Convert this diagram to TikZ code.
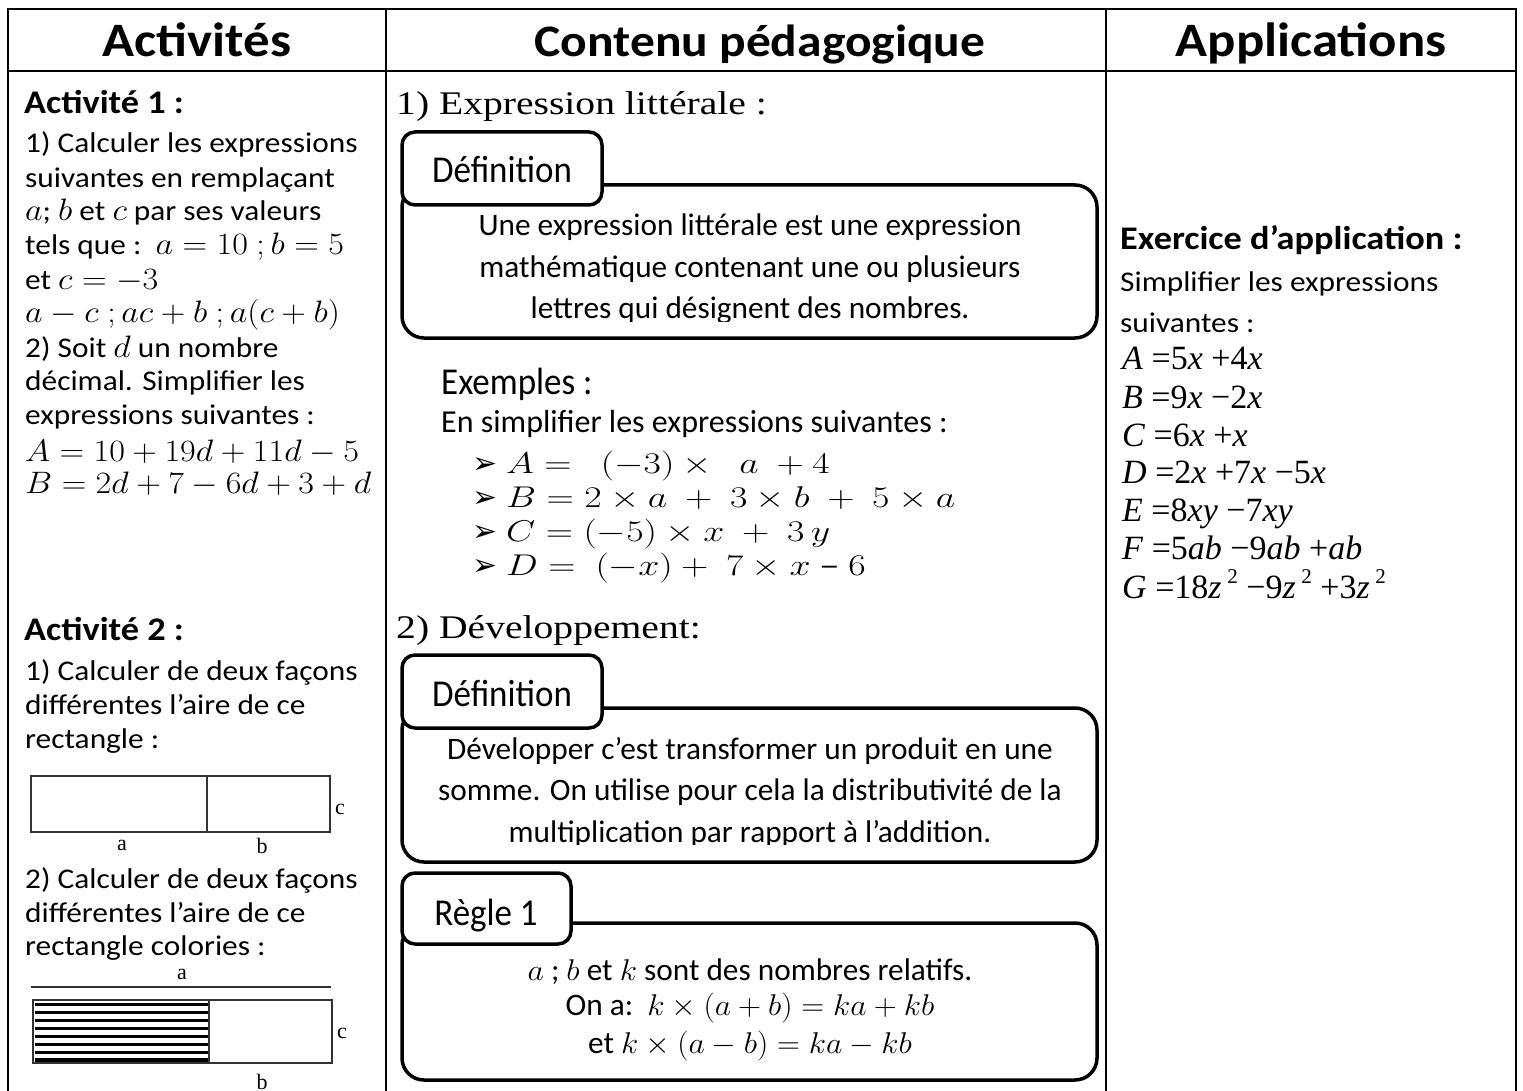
\RequirePackage{fix-cm}
\documentclass[tikz,border=0pt]{standalone}
\usepackage[no-math]{fontspec}
\setmainfont{Carlito}[FakeStretch=1.1]
\newfontfamily\plainf{Carlito}
\newfontfamily\lblf{Carlito}[FakeStretch=0.92]
\newfontfamily\serf{Liberation Serif}[FakeStretch=1.2]
\newfontfamily\tms{Liberation Serif}
\newfontfamily\djv{DejaVu Sans}
\newcommand\mysup[1]{\raisebox{0.42em}{\fontsize{21}{21}\selectfont #1}}
\newcommand\ix[1]{\textit{#1}}
\newcommand\mA[1]{{\fontsize{31}{36}\selectfont\scalebox{1.1}[1]{$#1$}}}
\newcommand\mB[1]{{\fontsize{30}{33}\selectfont\scalebox{1.26}[1]{$#1$}}}
\newcommand\mC[1]{{\fontsize{30}{36}\selectfont\scalebox{1.06}[1]{$#1$}}}
\tikzset{
  tl/.style={line width=2pt},
  bigbox/.style={draw, line width=3.5pt, rounded corners=22pt},
  tabbox/.style={draw, fill=white, line width=3.5pt, rounded corners=13pt},
  txt/.style={anchor=base west, inner sep=0pt, font=\fontsize{28.5}{33}\selectfont},
  ctxt/.style={anchor=base, inner sep=0pt, font=\fontsize{31.3}{36}\plainf},
  hd/.style={anchor=base, inner sep=0pt, font=\fontsize{48}{52}\selectfont\bfseries},
  subh/.style={anchor=base west, inner sep=0pt, font=\fontsize{33}{36}\selectfont\bfseries},
  ttl/.style={anchor=base west, inner sep=0pt, font=\fontsize{33}{38}\serf},
  lbl/.style={anchor=base, inner sep=0pt, font=\fontsize{38}{42}\lblf},
  lblw/.style={anchor=base west, inner sep=0pt, font=\fontsize{38}{42}\lblf},
  fig/.style={line width=1.2pt, draw=black!80},
  figl/.style={anchor=base, inner sep=0pt, font=\fontsize{22}{24}\tms},
  eqs/.style={anchor=base west, inner sep=0pt, font=\fontsize{34}{38}\tms},
  bul/.style={anchor=base west, inner sep=0pt, font=\fontsize{30}{34}\djv},
}
\begin{document}
\begin{tikzpicture}[x=1pt,y=-1pt]
\useasboundingbox (0,0) rectangle (1523,1091);
% table
\draw[tl] (8,1100) -- (8,9) -- (1516,9) -- (1516,1100);
\draw[tl] (8,71) -- (1516,71);
\draw[tl] (386,9) -- (386,1100);
\draw[tl] (1106,9) -- (1106,1100);
\node[hd] (h1) at (197,57) {Activités};
\node[hd, font=\fontsize{45}{50}\selectfont\bfseries] (h2) at (760,57) {Contenu pédagogique};
\node[hd] (h3) at (1311,57) {Applications};

% column 1
\node[subh] (a1) at (24,114) {Activité 1 :};
\node[txt] (l1) at (25,153) {1) Calculer les expressions};
\node[txt] (l2) at (25,188) {suivantes en remplaçant};
\node[txt] (l3) at (25,221) {\mA{a}; \mA{b} et \mA{c} par ses valeurs};
\node[txt] (l4) at (25,255) {tels que :\ \ \mA{a=10\ ;b=5}};
\node[txt] (l5) at (25,290) {et \mA{c=-3}};
\node[txt] (l6) at (25,323) {\mA{a-c\ ;ac+b\ ;a(c+b)}};
\node[txt] (l7) at (25,357) {2) Soit \mA{d} un nombre};
\node[txt] (l8) at (25,390) {décimal. Simplifier les};
\node[txt] (l9) at (25,424) {expressions suivantes :};
\node[txt] (l10) at (25,461) {\mA{A=10+19d+11d-5}};
\node[txt] (l11) at (25,493) {\mA{B=2d+7-6d+3+d}};

\node[subh] (a2) at (24,640) {Activité 2 :};
\node[txt] (m1) at (25,680) {1) Calculer de deux façons};
\node[txt] (m2) at (25,714) {différentes l’aire de ce};
\node[txt] (m3) at (25,748) {rectangle :};
\draw[fig] (31,776) rectangle (330,832);
\draw[fig] (207,776) -- (207,832);
\node[figl, anchor=base west] (rc1) at (335,814) {c};
\node[figl] (ra1) at (122,850) {a};
\node[figl] (rb1) at (262,853) {b};
\node[txt] (n1) at (25,888) {2) Calculer de deux façons};
\node[txt] (n2) at (25,922) {différentes l’aire de ce};
\node[txt] (n3) at (25,955) {rectangle colories :};
\node[figl] (ra2) at (182,979) {a};
\draw[fig] (31,987) -- (331,987);
\draw[fig] (33,1000) rectangle (332,1063);
\foreach \yy in {1004.5,1012.5,1020.5,1028.5,1036.5,1044.5,1052.5,1060}
  \draw[line width=3.4pt] (35,\yy) -- (209,\yy);
\draw[fig, line width=1.6pt] (209,1000) -- (209,1063);
\node[figl, anchor=base west] (rc2) at (337,1038) {c};
\node[figl] (rb2) at (262,1089) {b};

% column 2
\node[ttl] (t1) at (396,115) {1) Expression littérale :};
\draw[bigbox] (402,185) rectangle (1097,338);
\draw[tabbox] (402,132) rectangle (602,205);
\node[lbl] (d1) at (502,183) {Définition};
\node[ctxt] (d1a) at (750,236) {Une expression littérale est une expression};
\node[ctxt] (d1b) at (750,278) {mathématique contenant une ou plusieurs};
\begin{scope}
\clip (410,285) rectangle (1090,321);
\node[ctxt] (d1c) at (750,319) {lettres qui désignent des nombres.};
\end{scope}

\node[lblw] (ex) at (441,394) {Exemples :};
\node[ctxt, anchor=base west, font=\fontsize{32}{36}\plainf] (ex0) at (441,432) {En simplifier les expressions suivantes :};
\node[bul] (b1) at (472,473) {➢};
\node[bul] (b2) at (472,507) {➢};
\node[bul] (b3) at (472,541) {➢};
\node[bul] (b4) at (472,575) {➢};
\node[txt] (e1) at (506,473) {\mB{A=\ \ (-3)\times\ \ a\ +4}};
\node[txt] (e2) at (506,507) {\mB{B=2\times a\ +\ 3\times b\ +\ 5\times a}};
\node[txt] (e3) at (506,541) {\mB{C=(-5)\times x\ +\ 3\,y}};
\node[txt] (e4) at (506,575) {\mB{D=\ (-x)+\ 7\times x\mathbin{\hbox{–}}6}};

\node[ttl] (t2) at (396,638) {2) Développement:};
\draw[bigbox] (402,708) rectangle (1097,862);
\draw[tabbox] (402,655) rectangle (602,728);
\node[lbl] (d2) at (502,706) {Définition};
\node[ctxt] (d2a) at (750,759) {Développer c’est transformer un produit en une};
\node[ctxt] (d2b) at (750,800) {somme. On utilise pour cela la distributivité de la};
\begin{scope}
\clip (410,808) rectangle (1090,844);
\node[ctxt] (d2c) at (750,842) {multiplication par rapport à l’addition.};
\end{scope}

\draw[bigbox] (402,923) rectangle (1097,1080);
\draw[tabbox] (402,873) rectangle (571,944);
\node[lbl] (r1) at (486,925) {Règle 1};
\node[ctxt] (r1a) at (750,980) {\mC{a} ; \mC{b} et \mC{k} sont des nombres relatifs.};
\node[ctxt] (r1b) at (750,1015) {On a:\ \ \mC{k\times(a+b)=ka+kb}};
\node[ctxt] (r1c) at (750,1053) {et \mC{k\times(a-b)=ka-kb}};

% column 3
\node[subh] (ap) at (1120,250) {Exercice d’application :};
\node[txt] (ap1) at (1120,291) {Simplifier les expressions};
\node[txt] (ap2) at (1120,332) {suivantes :};
\node[eqs] (q1) at (1122,369) {\ix{A} =5\ix{x} +4\ix{x}};
\node[eqs] (q2) at (1122,408) {\ix{B} =9\ix{x} −2\ix{x}};
\node[eqs] (q3) at (1122,446) {\ix{C} =6\ix{x} +\ix{x}};
\node[eqs] (q4) at (1122,483) {\ix{D} =2\ix{x} +7\ix{x} −5\ix{x}};
\node[eqs] (q5) at (1122,521) {\ix{E} =8\ix{xy} −7\ix{xy}};
\node[eqs] (q6) at (1122,559) {\ix{F} =5\ix{ab} −9\ix{ab} +\ix{ab}};
\node[eqs] (q7) at (1122,598) {\ix{G} =18\ix{z}\,\mysup{2} −9\ix{z}\,\mysup{2} +3\ix{z}\,\mysup{2}};
\end{tikzpicture}
\end{document}
